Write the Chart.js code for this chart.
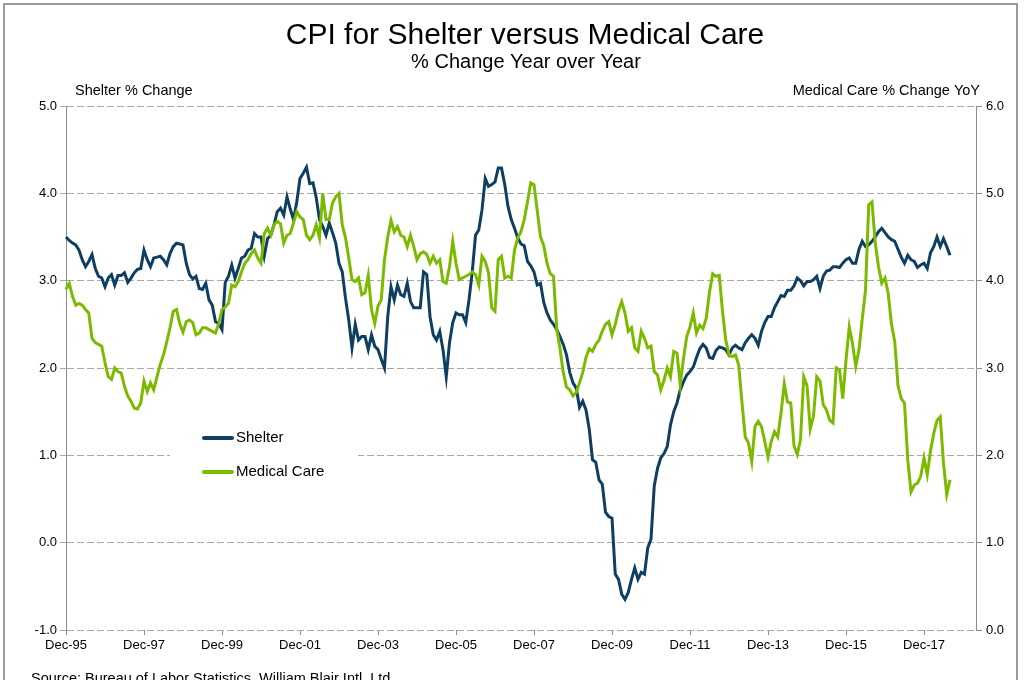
<!DOCTYPE html>
<html>
<head>
<meta charset="utf-8">
<title>CPI for Shelter versus Medical Care</title>
<script src="https://cdn.jsdelivr.net/npm/chart.js@4.4.1/dist/chart.umd.min.js"></script>
<style>
  html, body { margin: 0; padding: 0; background: #fff; overflow: hidden; }
  #wrap { position: relative; width: 1024px; height: 680px; }
  #frame { position: absolute; left: 3px; top: 3px; width: 1015px; height: 700px; border: 2px solid #9a9a9a; box-sizing: border-box; pointer-events: none; }
  canvas { position: absolute; left: 0; top: 0; }
</style>
</head>
<body>
<div id="wrap">
  <canvas id="cpiChart" width="1024" height="680"></canvas>
  <div id="frame"></div>
</div>
<script>
// monthly YoY % change, Dec-95 .. Aug-18
const shelter = [
  3.50, 3.46, 3.43, 3.41, 3.35, 3.24, 3.16, 3.22, 3.30, 3.14, 3.05, 3.03,
  2.93, 3.03, 3.07, 2.95, 3.06, 3.06, 3.09, 2.98, 3.03, 3.09, 3.13, 3.14,
  3.35, 3.24, 3.16, 3.26, 3.27, 3.28, 3.24, 3.18, 3.31, 3.39, 3.43, 3.42,
  3.41, 3.20, 3.07, 3.02, 3.05, 2.91, 2.90, 2.97, 2.78, 2.72, 2.53, 2.51,
  2.44, 2.98, 3.05, 3.18, 3.03, 3.14, 3.26, 3.28, 3.35, 3.37, 3.54, 3.50,
  3.50, 3.28, 3.48, 3.52, 3.64, 3.79, 3.83, 3.75, 3.96, 3.82, 3.70, 3.90,
  4.17, 4.23, 4.30, 4.11, 4.12, 3.95, 3.70, 3.62, 3.52, 3.66, 3.55, 3.43,
  3.20, 3.10, 2.80, 2.55, 2.23, 2.50, 2.32, 2.36, 2.36, 2.21, 2.38, 2.25,
  2.21, 2.10, 2.00, 2.59, 2.93, 2.78, 2.95, 2.84, 2.82, 2.97, 2.76, 2.69,
  2.69, 2.69, 3.10, 3.07, 2.59, 2.38, 2.32, 2.42, 2.21, 1.90, 2.29, 2.52,
  2.63, 2.61, 2.61, 2.52, 2.78, 3.10, 3.52, 3.58, 3.81, 4.17, 4.08, 4.10,
  4.13, 4.29, 4.29, 4.10, 3.85, 3.70, 3.60, 3.49, 3.42, 3.40, 3.22, 3.17,
  3.10, 2.95, 2.97, 2.75, 2.63, 2.55, 2.50, 2.44, 2.36, 2.27, 2.15, 1.95,
  1.83, 1.77, 1.55, 1.62, 1.52, 1.30, 0.95, 0.92, 0.72, 0.67, 0.35, 0.30,
  0.28, -0.36, -0.42, -0.59, -0.65, -0.57, -0.42, -0.29, -0.42, -0.34, -0.36, -0.06,
  0.04, 0.65, 0.85, 0.97, 1.02, 1.10, 1.35, 1.50, 1.60, 1.75, 1.84, 1.92,
  1.96, 2.01, 2.12, 2.22, 2.27, 2.23, 2.12, 2.11, 2.20, 2.24, 2.23, 2.21,
  2.15, 2.23, 2.26, 2.23, 2.21, 2.29, 2.34, 2.38, 2.34, 2.26, 2.42, 2.52,
  2.59, 2.59, 2.69, 2.76, 2.83, 2.82, 2.89, 2.89, 2.94, 3.03, 3.00, 2.94,
  2.99, 2.99, 3.01, 3.05, 2.91, 3.05, 3.11, 3.12, 3.16, 3.16, 3.15, 3.20,
  3.24, 3.26, 3.20, 3.20, 3.36, 3.45, 3.39, 3.41, 3.45, 3.50, 3.56, 3.60,
  3.55, 3.50, 3.47, 3.45, 3.36, 3.27, 3.20, 3.29, 3.24, 3.22, 3.15, 3.18,
  3.20, 3.14, 3.32, 3.39, 3.50, 3.39, 3.48, 3.39, 3.29
];

const medicalCare = [
  3.90, 3.97, 3.82, 3.72, 3.74, 3.72, 3.67, 3.63, 3.34, 3.29, 3.27, 3.25,
  3.06, 2.90, 2.87, 3.00, 2.96, 2.94, 2.79, 2.68, 2.62, 2.54, 2.53, 2.60,
  2.85, 2.73, 2.83, 2.75, 2.90, 3.04, 3.15, 3.30, 3.46, 3.65, 3.67, 3.51,
  3.41, 3.53, 3.55, 3.52, 3.38, 3.40, 3.46, 3.46, 3.44, 3.42, 3.40, 3.51,
  3.67, 3.70, 3.74, 3.95, 3.93, 3.99, 4.10, 4.20, 4.24, 4.31, 4.35, 4.26,
  4.20, 4.54, 4.60, 4.52, 4.64, 4.68, 4.65, 4.43, 4.52, 4.54, 4.66, 4.79,
  4.73, 4.70, 4.52, 4.47, 4.52, 4.64, 4.49, 5.00, 4.70, 4.70, 4.89, 4.96,
  5.00, 4.64, 4.49, 4.26, 4.01, 3.99, 4.03, 3.84, 3.86, 4.06, 3.67, 3.51,
  3.71, 3.78, 4.24, 4.50, 4.69, 4.56, 4.62, 4.52, 4.50, 4.39, 4.52, 4.39,
  4.24, 4.31, 4.33, 4.30, 4.20, 4.28, 4.20, 4.24, 3.99, 3.97, 4.16, 4.45,
  4.20, 4.01, 4.03, 4.05, 4.07, 4.10, 4.07, 3.95, 4.28, 4.22, 4.09, 3.69,
  3.65, 4.24, 4.28, 4.03, 4.05, 4.03, 4.35, 4.49, 4.56, 4.70, 4.90, 5.12,
  5.10, 4.80, 4.50, 4.40, 4.20, 4.08, 4.05, 3.45, 3.22, 2.95, 2.78, 2.75,
  2.68, 2.72, 2.83, 2.95, 3.12, 3.22, 3.19, 3.27, 3.32, 3.42, 3.50, 3.53,
  3.38, 3.50, 3.66, 3.76, 3.63, 3.42, 3.46, 3.23, 3.19, 3.42, 3.34, 3.23,
  3.25, 2.96, 2.92, 2.75, 2.86, 3.00, 2.90, 3.19, 3.17, 2.81, 3.11, 3.36,
  3.47, 3.63, 3.40, 3.49, 3.45, 3.57, 3.87, 4.08, 4.05, 4.06, 3.65, 3.32,
  3.15, 3.13, 3.15, 3.03, 2.60, 2.21, 2.14, 1.93, 2.33, 2.39, 2.33, 2.16,
  1.98, 2.16, 2.27, 2.21, 2.48, 2.82, 2.61, 2.60, 2.11, 2.01, 2.18, 2.90,
  2.80, 2.30, 2.45, 2.90, 2.85, 2.58, 2.52, 2.40, 2.37, 3.00, 2.98, 2.65,
  3.09, 3.47, 3.28, 3.02, 3.21, 3.56, 3.89, 4.87, 4.90, 4.43, 4.16, 3.97,
  4.03, 3.85, 3.50, 3.30, 2.80, 2.65, 2.60, 1.95, 1.58, 1.66, 1.68, 1.76,
  1.97, 1.78, 2.05, 2.25, 2.40, 2.44, 1.91, 1.55, 1.72
];

const tickLabels = ['Dec-95', 'Dec-97', 'Dec-99', 'Dec-01', 'Dec-03', 'Dec-05',
                    'Dec-07', 'Dec-09', 'Dec-11', 'Dec-13', 'Dec-15', 'Dec-17'];

// month categories Dec-95 .. Aug-19 (axis runs past the last data point)
const monthNames = ['Jan','Feb','Mar','Apr','May','Jun','Jul','Aug','Sep','Oct','Nov','Dec'];
const months = [];
for (let i = 0; i <= 280; i++) {
  const m = (11 + i) % 12;
  const y = 1995 + Math.floor((11 + i) / 12);
  months.push(monthNames[m] + '-' + String(y % 100).padStart(2, '0'));
}

const FONT = '"Liberation Sans", Arial, sans-serif';
const SHELTER_COLOR = '#0e3f62';
const MEDICAL_COLOR = '#7cba00';
const GRID = '#a8a8a8';
const AXIS = '#8c8c8c';

const chartText = {
  id: 'chartText',
  afterDraw(chart) {
    const ctx = chart.ctx;
    ctx.save();
    ctx.fillStyle = '#000';
    ctx.textBaseline = 'middle';
    ctx.textAlign = 'center';
    ctx.font = '30px ' + FONT;
    ctx.fillText('CPI for Shelter versus Medical Care', 525, 36);
    ctx.font = '20px ' + FONT;
    ctx.fillText('% Change Year over Year', 526, 62);

    ctx.font = '14.5px ' + FONT;
    ctx.textAlign = 'left';
    ctx.fillText('Shelter % Change', 75, 91);
    ctx.textAlign = 'right';
    ctx.fillText('Medical Care % Change YoY', 980, 91);
    ctx.textAlign = 'left';
    ctx.fillText('Source: Bureau of Labor Statistics, William Blair Intl. Ltd.', 31, 679);

    // legend box inside the plot
    ctx.fillStyle = '#fff';
    ctx.fillRect(170, 420, 188, 68);
    ctx.font = '15px ' + FONT;
    ctx.lineCap = 'round';
    ctx.lineWidth = 4;
    const items = [chart.data.datasets[0], chart.data.datasets[1]];
    items.forEach((ds, k) => {
      const y = 438 + k * 34;
      ctx.strokeStyle = ds.borderColor;
      ctx.beginPath();
      ctx.moveTo(204, y);
      ctx.lineTo(232, y);
      ctx.stroke();
      ctx.fillStyle = '#000';
      ctx.fillText(ds.label, 236, y);
    });
    ctx.restore();
  }
};

new Chart(document.getElementById('cpiChart'), {
  type: 'line',
  data: {
    labels: months,
    datasets: [{
      label: 'Shelter',
      data: shelter,
      yAxisID: 'y',
      borderColor: SHELTER_COLOR,
      borderWidth: 3,
      pointRadius: 0,
      tension: 0,
      order: 2
    }, {
      label: 'Medical Care',
      data: medicalCare,
      yAxisID: 'y1',
      borderColor: MEDICAL_COLOR,
      borderWidth: 3,
      pointRadius: 0,
      tension: 0,
      order: 1
    }]
  },
  options: {
    responsive: false,
    animation: false,
    layout: { padding: { top: 106, left: 0, right: 0, bottom: 0 } },
    plugins: {
      legend: { display: false },
      tooltip: { enabled: false }
    },
    scales: {
      x: {
        type: 'category',
        offset: false,
        afterBuildTicks: s => { s.ticks = s.ticks.filter(t => tickLabels.includes(months[t.value])); },
        afterFit: s => { s.height = 50; },
        grid: { drawOnChartArea: false, drawTicks: true, tickLength: 5, color: AXIS },
        border: { display: false },
        ticks: {
          autoSkip: false, maxRotation: 0, padding: 3,
          color: '#000', font: { family: FONT, size: 13 }
        }
      },
      y: {
        position: 'left',
        min: -1, max: 5,
        afterFit: s => { s.width = 66; },
        grid: { color: GRID, tickLength: 6 },
        border: { color: AXIS, dash: [7, 3] },
        ticks: {
          stepSize: 1, padding: 3,
          color: '#000', font: { family: FONT, size: 13 },
          callback: v => v.toFixed(1)
        }
      },
      y1: {
        position: 'right',
        min: 0, max: 6,
        afterFit: s => { s.width = 48; },
        grid: { drawOnChartArea: false, color: AXIS, tickLength: 6 },
        border: { color: AXIS },
        ticks: {
          stepSize: 1, padding: 4,
          color: '#000', font: { family: FONT, size: 13 },
          callback: v => v.toFixed(1)
        }
      }
    }
  },
  plugins: [chartText]
});
</script>
</body>
</html>
